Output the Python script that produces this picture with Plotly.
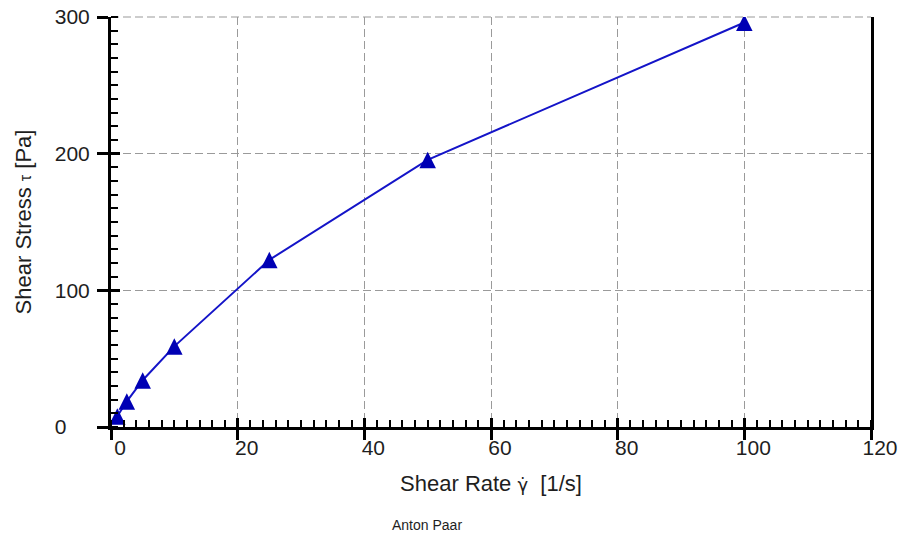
import plotly.graph_objects as go

# ---- data ----
shear_rate = [1, 2.5, 5, 10, 25, 50, 100]          # 1/s
shear_stress = [7.8, 18.8, 34.2, 59, 122.3, 195.5, 296]  # Pa

x_tick_vals = [0, 20, 40, 60, 80, 100, 120]
x_tick_text = ["0", "20", "40", "60", "80", "100", "120"]
y_tick_vals = [0, 100, 200, 300]
y_tick_text = ["0", "100", "200", "300"]

NB = "\u00a0"
y_tick_text_padded = [t + NB * (2 * (3 - len(t))) for t in y_tick_text]

FONT = "Arial, 'Liberation Sans', sans-serif"
TXT = "#1e1e1e"
BLUE_LINE = "#1414c8"
BLUE_MARK = "#0000b4"
GRID = "#9a9a9a"

fig = go.Figure()
fig.add_trace(go.Scatter(
    x=shear_rate, y=shear_stress,
    mode="lines+markers",
    line=dict(color=BLUE_LINE, width=2),
    marker=dict(symbol="arrow-down", angle=180, standoff=8, size=16.5,
                color=BLUE_MARK, line=dict(width=0)),
    showlegend=False, hoverinfo="x+y",
))
# helper invisible trace on overlay axes (for crossing major ticks)
fig.add_trace(go.Scatter(x=[x_tick_vals[0]], y=[y_tick_vals[0]], xaxis="x2", yaxis="y2",
                         mode="markers", marker=dict(opacity=0), showlegend=False,
                         hoverinfo="skip"))

xr = [x_tick_vals[0], x_tick_vals[-1]]
yr = [y_tick_vals[0], y_tick_vals[-1]]

fig.update_layout(
    width=903, height=537,
    margin=dict(l=111, r=32, t=17, b=110),
    paper_bgcolor="white", plot_bgcolor="white",
    font=dict(family=FONT, color=TXT),
    xaxis=dict(
        range=xr, tickvals=x_tick_vals, ticktext=x_tick_text, automargin=False,
        ticks="outside", ticklen=10, tickwidth=2.5, tickcolor="black",
        ticklabelshift=9, ticklabelstandoff=-10,
        tickfont=dict(size=21, family=FONT, color=TXT),
        showline=True, linewidth=3, linecolor="black", mirror=False,
        showgrid=True, gridcolor=GRID, gridwidth=1.2, griddash="8px,4px",
        zeroline=False,
        minor=dict(dtick=2, ticks="inside", ticklen=7, tickwidth=2, tickcolor="black", showgrid=False),
        title=dict(text="Shear Rate <span style='font-size:18px;font-family:DejaVu Sans'>\u03b3\u0307</span>  [1/s]",
                   font=dict(size=22, family=FONT, color=TXT), standoff=18),
    ),
    yaxis=dict(
        range=yr, tickvals=y_tick_vals, ticktext=y_tick_text_padded, automargin=False,
        ticks="outside", ticklen=11, tickwidth=2.5, tickcolor="black",
        ticklabelstandoff=3,
        tickfont=dict(size=21, family=FONT, color=TXT),
        showline=True, linewidth=3, linecolor="black", mirror=True,
        showgrid=True, gridcolor=GRID, gridwidth=1.2, griddash="8px,4px",
        zeroline=False,
        minor=dict(dtick=10, ticks="inside", ticklen=7, tickwidth=2, tickcolor="black", showgrid=False),
        title=dict(text="Shear Stress <span style='font-size:16px'>\u03c4</span> [Pa]",
                   font=dict(size=22, family=FONT, color=TXT), standoff=18),
    ),
    xaxis2=dict(overlaying="x", range=xr, tickvals=x_tick_vals, ticks="inside", ticklen=9,
                tickwidth=2.5, tickcolor="black", showticklabels=False, showgrid=False,
                zeroline=False, showline=False, side="bottom", automargin=False),
    yaxis2=dict(overlaying="y", range=yr, tickvals=y_tick_vals, ticks="inside", ticklen=9,
                tickwidth=2.5, tickcolor="black", showticklabels=False, showgrid=False,
                zeroline=False, showline=False, side="left", automargin=False),
    shapes=[dict(type="line", xref="paper", yref="paper", x0=0, x1=1, y0=1, y1=1,
                 line=dict(color=GRID, width=1.2, dash="8px,4px"), layer="below")],
    annotations=[dict(text="Anton Paar", xref="paper", yref="paper", x=0.4164, y=-0.239,
                      showarrow=False, font=dict(size=14, family=FONT, color=TXT),
                      xanchor="center", yanchor="middle")],
)

fig.write_html("out.html", config={"displayModeBar": False},
               post_script="document.body.style.margin='0';document.body.style.padding='0';")
